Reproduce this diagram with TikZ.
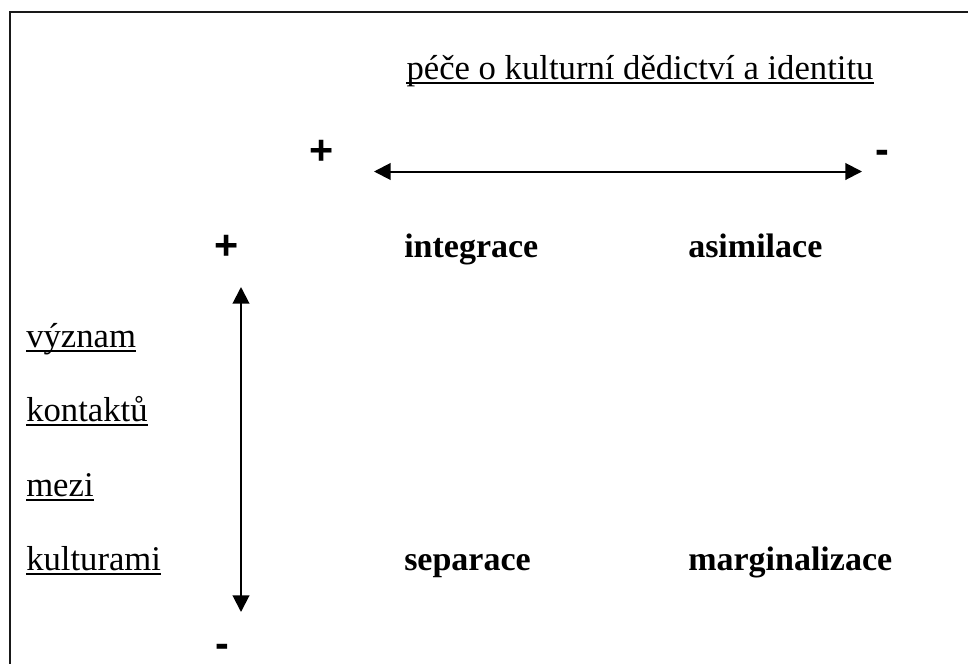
\documentclass[tikz,border=0pt]{standalone}
\usepackage{fontspec}
\setmainfont{Liberation Serif}
\newfontfamily\signfont{Liberation Sans}
\usetikzlibrary{arrows.meta}
\tikzset{
  lbl/.style={inner sep=0pt, font=\fontsize{26}{30}\selectfont},
  blbl/.style={lbl, font=\fontsize{25.5}{30}\selectfont\bfseries},
  sgn/.style={inner sep=0pt, font=\fontsize{31}{34}\selectfont\signfont\bfseries},
  axis/.style={line width=1.5pt, {Triangle[length=12.5pt,width=12.5pt]}-{Triangle[length=12.5pt,width=12.5pt]}},
  frame/.style={line width=1.5pt, draw=black!90},
  uline/.style={line width=1.5pt}
}
\begin{document}
\begin{tikzpicture}[x=0.75pt,y=-0.75pt]
\useasboundingbox (0,0) rectangle (968,664);
% frame
\coordinate (fbl) at (9.5,664);
\coordinate (ftl) at (9.5,12);
\coordinate (ftr) at (968,12);
\draw[frame] (fbl) -- (ftl) -- (ftr);
% title
\node[lbl, anchor=base] (title) at (640,79) {péče o kulturní dědictví a identitu};
\draw[uline] ([yshift=-3pt]title.base west) -- ([yshift=-3pt]title.base east);
% signs
\node[sgn, anchor=base] (ptop) at (322,164) {+};
\node[sgn, anchor=base] (mtop) at (882,163) {-};
\node[sgn, anchor=base] (pleft) at (227,259) {+};
\node[sgn, anchor=base] (mleft) at (222,657) {-};
% arrows
\coordinate (ha) at (374,171.5);
\coordinate (hb) at (862,171.5);
\draw[axis] (ha) -- (hb);
\coordinate (va) at (241,287);
\coordinate (vb) at (241,612);
\draw[axis] (va) -- (vb);
% quadrants
\node[blbl, anchor=base west] (int) at (404,257) {integrace};
\node[blbl, anchor=base west] (asi) at (688,257) {asimilace};
\node[blbl, anchor=base west] (sep) at (404,570) {separace};
\node[blbl, anchor=base west] (mar) at (688,570) {marginalizace};
% left label
\node[lbl, anchor=base west] (l1) at (26,347) {význam};
\node[lbl, anchor=base west] (l2) at (26,421) {kontaktů};
\node[lbl, anchor=base west] (l3) at (26,496) {mezi};
\node[lbl, anchor=base west] (l4) at (26,570) {kulturami};
\foreach \n in {l1,l2,l3,l4}
  \draw[uline] ([yshift=-3pt]\n.base west) -- ([yshift=-3pt]\n.base east);
\end{tikzpicture}
\end{document}
